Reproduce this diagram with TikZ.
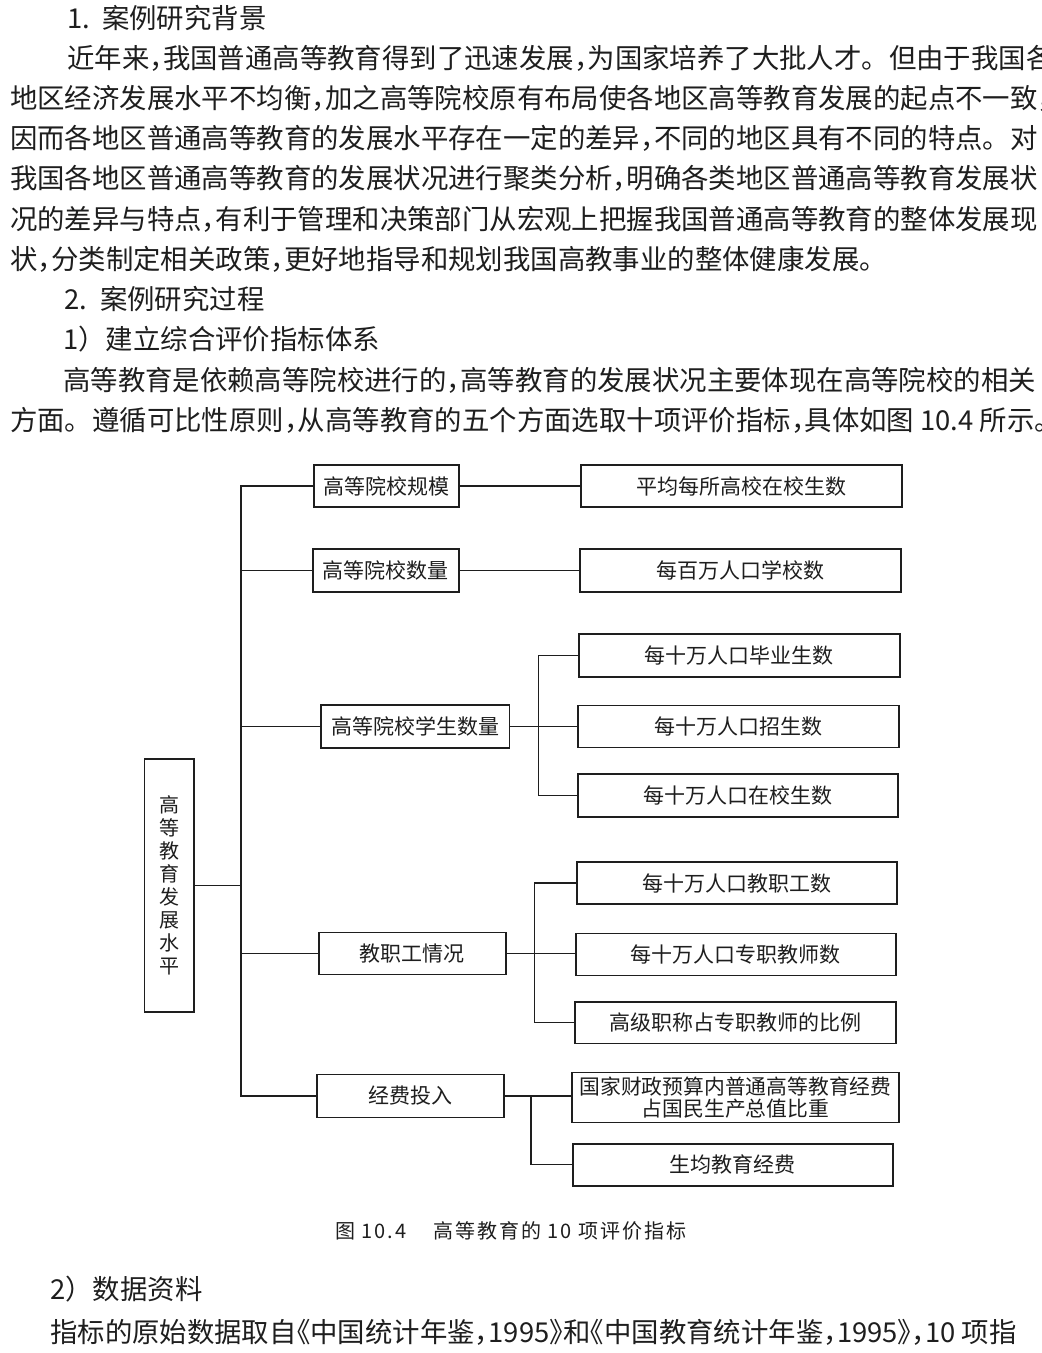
\documentclass[tikz,border=0pt]{standalone}
\usepackage{fontspec}
\setmainfont{Noto Sans CJK SC}
\newfontfamily\capfont[LetterSpace=10]{Noto Sans CJK SC}
\newcommand\zd{\makebox[0.5em][l]{，}}
\newcommand\lsh{\makebox[0.5em][r]{《}}
\newcommand\rsh{\makebox[0.5em][l]{》}}
\definecolor{ink}{HTML}{1E1E1E}
\begin{document}
\begin{tikzpicture}[x=1pt,y=-1pt,
  body/.style={anchor=west, inner sep=0pt, font=\fontsize{27.4}{30}\selectfont, text=ink},
  box/.style={draw=ink, line width=1.8pt, inner sep=0pt, font=\fontsize{21}{22}\selectfont, text=ink, align=center},
  bx/.style n args={2}{minimum width=#1pt, minimum height=#2pt},
  conn/.style={draw=ink, line width=1.1pt},
  captext/.style={anchor=west, inner sep=0pt, font=\capfont\fontsize{20}{22}\selectfont, text=ink}]
\useasboundingbox[fill=white] (0,0) rectangle (1042,1353);

% ---- body text, top ----
\node[body] (t1) at (67,18) {\makebox[35pt][l]{1.}案例研究背景};
\node[body] (t2) at (67,58) {近年来\zd 我国普通高等教育得到了迅速发展\zd 为国家培养了大批人才。但由于我国各};
\node[body] (t3) at (10,98.5) {地区经济发展水平不均衡\zd 加之高等院校原有布局使各地区高等教育发展的起点不一致\zd};
\node[body] (t4) at (10,138.5) {因而各地区普通高等教育的发展水平存在一定的差异\zd 不同的地区具有不同的特点。对};
\node[body] (t5) at (10,178.5) {我国各地区普通高等教育的发展状况进行聚类分析\zd 明确各类地区普通高等教育发展状};
\node[body] (t6) at (10,219) {况的差异与特点\zd 有利于管理和决策部门从宏观上把握我国普通高等教育的整体发展现};
\node[body] (t7) at (10,259) {状\zd 分类制定相关政策\zd 更好地指导和规划我国高教事业的整体健康发展。};
\node[body] (t8) at (64,299) {\makebox[36pt][l]{2.}案例研究过程};
\node[body] (t9) at (63,339) {1）建立综合评价指标体系};
\node[body] (t10) at (63,380) {高等教育是依赖高等院校进行的\zd 高等教育的发展状况主要体现在高等院校的相关};
\node[body] (t11) at (10,420) {方面。遵循可比性原则\zd 从高等教育的五个方面选取十项评价指标\zd 具体如图 10.4 所示。};

% ---- diagram ----
\node[box, bx={49.6}{252.7}, font=\fontsize{20}{23}\selectfont] (root) at (169.2,885.4) {高\\等\\教\\育\\发\\展\\水\\平};

\node[box, bx={145.6}{42}] (A1) at (386.4,486) {高等院校规模};
\node[box, bx={145.7}{43}] (A2) at (385.9,570.5) {高等院校数量};
\node[box, bx={188.5}{42.7}] (A3) at (415.3,726.3) {高等院校学生数量};
\node[box, bx={187.2}{42}] (A4) at (412.3,953.5) {教职工情况};
\node[box, bx={187.7}{43}] (A5) at (410.5,1096) {经费投入};

\node[box, bx={320.8}{42}] (B1) at (741.4,486) {平均每所高校在校生数};
\node[box, bx={320.8}{42.7}] (B2) at (740.4,570.5) {每百万人口学校数};
\node[box, bx={320.7}{42.7}] (B3) at (739.3,655.3) {每十万人口毕业生数};
\node[box, bx={320.7}{42}] (B4) at (738.3,726.5) {每十万人口招生数};
\node[box, bx={320.3}{42.7}] (B5) at (737.8,795.3) {每十万人口在校生数};
\node[box, bx={320.3}{42}] (B6) at (736.8,883) {每十万人口教职工数};
\node[box, bx={320.4}{42}] (B7) at (735.8,954.5) {每十万人口专职教师数};
\node[box, bx={321}{41.5}] (B8) at (735.1,1022.8) {高级职称占专职教师的比例};
\node[box, bx={327}{50}, font=\fontsize{20.8}{22}\selectfont] (B9) at (735.5,1097.5) {国家财政预算内普通高等教育经费\\占国民生产总值比重};
\node[box, bx={320.4}{41.7}] (B10) at (732.8,1164.9) {生均教育经费};

\coordinate (tk) at (241,0);
\coordinate (s3) at (538.5,0);
\coordinate (s4) at (534.6,0);
\coordinate (s5) at (531,0);

\draw[conn] (A1.west) -- (A1.west -| tk) |- (A5.west);
\draw[conn] (A2.west) -- (A2.west -| tk);
\draw[conn] (A3.west) -- (A3.west -| tk);
\draw[conn] (A4.west) -- (A4.west -| tk);
\draw[conn] (root.east) -- (root.east -| tk);

\draw[conn] (A1.east) -- (B1.west);
\draw[conn] (A2.east) -- (B2.west);

\draw[conn] (A3.east) -- (A3.east -| B4.west);
\draw[conn] (B3.west) -- (B3.west -| s3) |- (B5.west);

\draw[conn] (A4.east) -- (A4.east -| B7.west);
\draw[conn] (B6.west) -- (B6.west -| s4) |- (B8.west);

\draw[conn] (A5.east) -- (A5.east -| B9.west);
\draw[conn] (A5.east -| s5) |- (B10.west);

% ---- caption ----
\node[captext] (cap1) at (335,1231) {图 10.4};
\node[captext] (cap2) at (433,1231) {高等教育的 10 项评价指标};

% ---- body text, bottom ----
\node[body] (d1) at (50,1289) {2）数据资料};
\node[body] (d2) at (50,1332) {指标的原始数据取自\lsh 中国统计年鉴\zd 1995\rsh 和\lsh 中国教育统计年鉴\zd 1995\rsh\zd 10 项指};
\end{tikzpicture}
\end{document}
